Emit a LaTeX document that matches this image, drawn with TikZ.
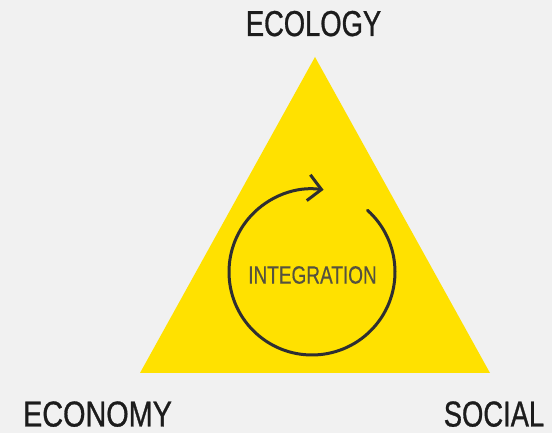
\documentclass[tikz,border=0pt]{standalone}
\usepackage{fontspec}
\usetikzlibrary{arrows.meta}
\newfontfamily\condfont[FakeStretch=0.76,FakeBold=0.8]{Liberation Sans}
\newfontfamily\condwide[FakeStretch=0.80,FakeBold=0.8]{Liberation Sans}
\newfontfamily\condlight[FakeStretch=0.76,FakeBold=0.4]{Liberation Sans}
\definecolor{pagebg}{HTML}{F1F1F1}
\definecolor{triyellow}{HTML}{FFE100}
\definecolor{labelink}{HTML}{1C1C1C}
\definecolor{ringink}{HTML}{2E2E32}
\definecolor{innerink}{HTML}{55523F}
\tikzset{
  pillar/.style={text=labelink, font=\condfont\fontsize{36}{36}\selectfont, inner sep=0pt, anchor=base},
  centre label/.style={text=innerink, font=\condlight\fontsize{25}{25}\selectfont, inner sep=0pt},
  ring/.style={draw=ringink, line width=3pt, line cap=round,
    -{Straight Barb[length=13pt,width=26pt,line width=3pt]}}
}
\begin{document}
\begin{tikzpicture}[x=1pt,y=1pt]
  % canvas
  \fill[pagebg] (0,0) rectangle (552,433);
  \useasboundingbox (0,0) rectangle (552,433);

  % triangle corners
  \coordinate (apex) at (315,376);
  \coordinate (baseL) at (140,60);
  \coordinate (baseR) at (490,60);
  \fill[triyellow] (baseL) -- (apex) -- (baseR) -- cycle;

  % integration cycle
  \coordinate (ringc) at (312,161);
  \draw[ring] ([shift={(48:83)}]ringc) arc[start angle=48, end angle=-278, radius=83];
  \node[centre label] (integ) at (312.5,158) {INTEGRATION};

  % pillar labels
  \node[pillar] (ecology) at (313.5,397) {ECOLOGY};
  \node[pillar, font=\condwide\fontsize{36}{36}\selectfont] (economy) at (97.5,6.5) {ECONOMY};
  \node[pillar] (social) at (494,6.5) {SOCIAL};
\end{tikzpicture}
\end{document}
